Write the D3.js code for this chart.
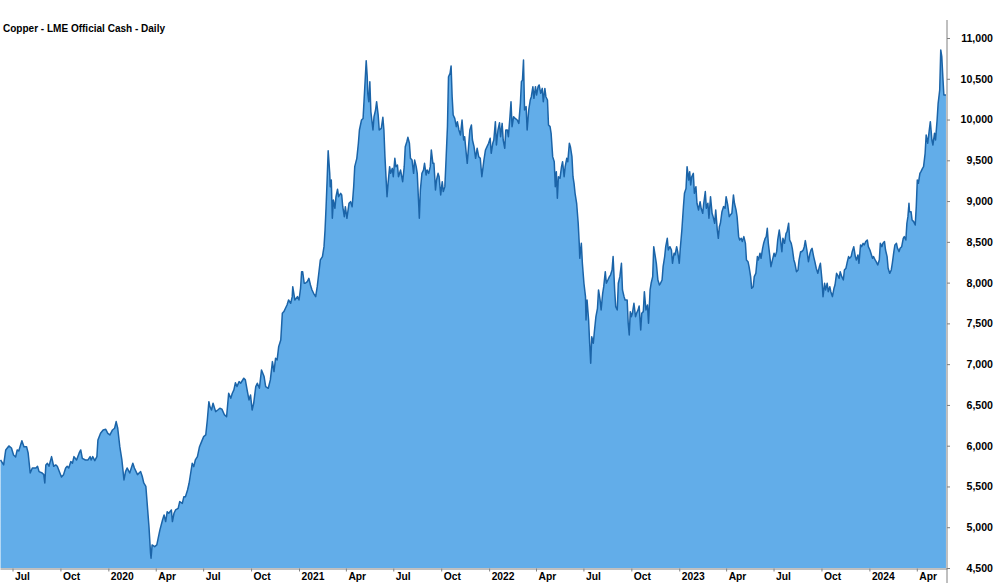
<!DOCTYPE html>
<html>
<head>
<meta charset="utf-8">
<script src="https://cdn.jsdelivr.net/npm/d3@7"></script>
<style>
  body { margin: 0; background: #fff; }
  text { font-family: "Liberation Sans", Arial, sans-serif; font-weight: bold; fill: #000; }
</style>
</head>
<body>
<div id="wrapper"></div>
<script>
// LME official cash copper, USD/t
const copper2019 = [["2019-06-08",5825],["2019-06-14",5764],["2019-06-18",5948],["2019-06-24",5997],["2019-06-29",5972],["2019-07-03",5886],["2019-07-07",5862],["2019-07-10",5948],["2019-07-13",5935],["2019-07-19",6061],["2019-07-23",5988],["2019-07-28",5988],["2019-07-31",5911],["2019-08-04",5665],["2019-08-08",5727],["2019-08-15",5727],["2019-08-18",5748],["2019-08-21",5682],["2019-08-27",5665],["2019-08-30",5645],["2019-09-01",5543],["2019-09-03",5764],["2019-09-06",5784],["2019-09-09",5748],["2019-09-14",5866],["2019-09-18",5748],["2019-09-22",5764],["2019-09-25",5748],["2019-09-30",5665],["2019-10-03",5616],["2019-10-07",5645],["2019-10-11",5727],["2019-10-14",5748],["2019-10-17",5727],["2019-10-21",5805],["2019-10-24",5784],["2019-10-27",5866],["2019-11-01",5825],["2019-11-06",5911],["2019-11-09",5948],["2019-11-12",5845],["2019-11-18",5825],["2019-11-23",5825],["2019-11-27",5866],["2019-11-29",5825],["2019-12-02",5866],["2019-12-06",5817],["2019-12-10",5866],["2019-12-12",6070],["2019-12-17",6152],["2019-12-22",6193],["2019-12-27",6201],["2019-12-31",6152]];

const copper2020 = [["2020-01-04",6132],["2020-01-09",6193],["2020-01-13",6214],["2020-01-16",6296],["2020-01-19",6214],["2020-01-23",5988],["2020-01-27",5825],["2020-01-31",5580],["2020-02-03",5682],["2020-02-06",5727],["2020-02-11",5665],["2020-02-17",5784],["2020-02-20",5727],["2020-02-26",5645],["2020-02-29",5665],["2020-03-03",5682],["2020-03-06",5625],["2020-03-09",5543],["2020-03-13",5502],["2020-03-16",5253],["2020-03-19",5007],["2020-03-22",4681],["2020-03-23",4620],["2020-03-25",4783],["2020-03-30",4762],["2020-04-03",4783],["2020-04-05",4844],["2020-04-09",4967],["2020-04-14",5089],["2020-04-17",5150],["2020-04-20",5069],["2020-04-23",5191],["2020-04-26",5171],["2020-05-01",5212],["2020-05-03",5069],["2020-05-06",5171],["2020-05-09",5212],["2020-05-14",5232],["2020-05-17",5314],["2020-05-22",5293],["2020-05-25",5375],["2020-05-28",5375],["2020-06-01",5457],["2020-06-04",5539],["2020-06-07",5662],["2020-06-10",5784],["2020-06-13",5743],["2020-06-16",5825],["2020-06-20",5866],["2020-06-24",5988],["2020-06-28",6050],["2020-07-02",6111],["2020-07-06",6132],["2020-07-09",6315],["2020-07-12",6540],["2020-07-14",6479],["2020-07-17",6438],["2020-07-20",6520],["2020-07-25",6418],["2020-07-29",6438],["2020-08-02",6459],["2020-08-06",6448],["2020-08-11",6377],["2020-08-15",6356],["2020-08-19",6643],["2020-08-23",6581],["2020-08-26",6643],["2020-08-29",6684],["2020-09-01",6773],["2020-09-04",6725],["2020-09-08",6786],["2020-09-11",6766],["2020-09-17",6827],["2020-09-20",6807],["2020-09-24",6663],["2020-09-27",6561],["2020-09-30",6622],["2020-10-03",6438],["2020-10-06",6520],["2020-10-10",6725],["2020-10-13",6766],["2020-10-17",6704],["2020-10-21",6929],["2020-10-26",6848],["2020-10-29",6725],["2020-11-03",6704],["2020-11-07",6807],["2020-11-11",7031],["2020-11-14",6909],["2020-11-17",7072],["2020-11-20",7052],["2020-11-23",7215],["2020-11-27",7297],["2020-11-30",7624],["2020-12-03",7645],["2020-12-06",7685],["2020-12-09",7726],["2020-12-12",7787],["2020-12-16",7746],["2020-12-19",7828],["2020-12-20",7950],["2020-12-24",7787],["2020-12-29",7828]];

const copper2021 = [["2021-01-01",7787],["2021-01-04",7930],["2021-01-06",8134],["2021-01-08",8134],["2021-01-11",7992],["2021-01-13",7992],["2021-01-17",8012],["2021-01-20",8052],["2021-01-23",7971],["2021-01-26",7910],["2021-01-29",7869],["2021-02-02",7828],["2021-02-05",7950],["2021-02-08",8115],["2021-02-11",8278],["2021-02-15",8319],["2021-02-18",8441],["2021-02-20",8645],["2021-02-22",8931],["2021-02-24",9258],["2021-02-26",9618],["2021-03-01",9341],["2021-03-02",9177],["2021-03-04",9258],["2021-03-06",8789],["2021-03-08",9013],["2021-03-11",8912],["2021-03-13",9054],["2021-03-16",9145],["2021-03-18",9054],["2021-03-22",9095],["2021-03-24",9075],["2021-03-26",8931],["2021-03-29",8809],["2021-03-31",8931],["2021-04-03",8789],["2021-04-07",8973],["2021-04-10",8993],["2021-04-13",8931],["2021-04-16",9177],["2021-04-18",9422],["2021-04-22",9524],["2021-04-25",9709],["2021-04-27",9872],["2021-05-01",9994],["2021-05-04",10014],["2021-05-07",10362],["2021-05-10",10722],["2021-05-12",10525],["2021-05-13",10322],["2021-05-15",10219],["2021-05-17",10464],["2021-05-19",10096],["2021-05-23",9872],["2021-05-25",10035],["2021-05-28",10117],["2021-05-30",10219],["2021-06-02",10055],["2021-06-04",9872],["2021-06-08",9892],["2021-06-11",10027],["2021-06-13",9872],["2021-06-15",9545],["2021-06-17",9299],["2021-06-19",9054],["2021-06-21",9218],["2021-06-24",9422],["2021-06-26",9340],["2021-06-29",9401],["2021-07-01",9299],["2021-07-04",9524],["2021-07-06",9422],["2021-07-09",9443],["2021-07-11",9299],["2021-07-15",9381],["2021-07-19",9238],["2021-07-22",9422],["2021-07-24",9667],["2021-07-27",9728],["2021-07-29",9782],["2021-08-01",9709],["2021-08-03",9524],["2021-08-06",9503],["2021-08-09",9340],["2021-08-11",9503],["2021-08-14",9422],["2021-08-16",9340],["2021-08-19",8931],["2021-08-20",8789],["2021-08-22",9136],["2021-08-25",9340],["2021-08-28",9381],["2021-08-30",9463],["2021-09-02",9320],["2021-09-04",9381],["2021-09-07",9340],["2021-09-10",9422],["2021-09-12",9627],["2021-09-15",9463],["2021-09-17",9463],["2021-09-20",9136],["2021-09-22",9258],["2021-09-25",9340],["2021-09-27",9299],["2021-09-30",9075],["2021-10-03",9238],["2021-10-05",9116],["2021-10-08",9177],["2021-10-10",9463],["2021-10-13",9913],["2021-10-15",10525],["2021-10-18",10566],["2021-10-20",10657],["2021-10-22",10280],["2021-10-24",10056],["2021-10-27",10014],["2021-10-30",9913],["2021-11-01",9974],["2021-11-04",9872],["2021-11-07",9811],["2021-11-10",9994],["2021-11-13",9749],["2021-11-15",9790],["2021-11-18",9586],["2021-11-20",9463],["2021-11-23",9709],["2021-11-25",9872],["2021-11-28",9933],["2021-11-30",9749],["2021-12-03",9667],["2021-12-06",9524],["2021-12-09",9647],["2021-12-12",9545],["2021-12-15",9524],["2021-12-18",9299],["2021-12-22",9503],["2021-12-25",9627],["2021-12-28",9667],["2021-12-31",9709]];

const copper2022 = [["2022-01-03",9770],["2022-01-05",9586],["2022-01-08",9709],["2022-01-10",9749],["2022-01-13",9974],["2022-01-15",9688],["2022-01-18",9872],["2022-01-21",9961],["2022-01-23",9790],["2022-01-26",9953],["2022-01-28",9749],["2022-01-31",9647],["2022-02-02",9872],["2022-02-05",9872],["2022-02-07",9790],["2022-02-10",10035],["2022-02-12",10219],["2022-02-14",9913],["2022-02-17",10035],["2022-02-20",10014],["2022-02-24",9994],["2022-02-27",9953],["2022-03-02",10199],["2022-03-04",10464],["2022-03-06",10484],["2022-03-08",10730],["2022-03-10",10117],["2022-03-13",10158],["2022-03-15",9872],["2022-03-18",10117],["2022-03-21",10240],["2022-03-23",10280],["2022-03-26",10403],["2022-03-28",10260],["2022-03-31",10403],["2022-04-02",10301],["2022-04-05",10403],["2022-04-07",10424],["2022-04-10",10321],["2022-04-13",10382],["2022-04-15",10219],["2022-04-18",10382],["2022-04-20",10280],["2022-04-23",10240],["2022-04-25",9933],["2022-04-28",9913],["2022-04-30",9831],["2022-05-03",9545],["2022-05-06",9483],["2022-05-08",9177],["2022-05-10",9361],["2022-05-12",9034],["2022-05-14",9299],["2022-05-17",9279],["2022-05-20",9422],["2022-05-22",9483],["2022-05-25",9299],["2022-05-27",9422],["2022-05-30",9524],["2022-06-01",9483],["2022-06-04",9709],["2022-06-06",9667],["2022-06-09",9545],["2022-06-11",9299],["2022-06-13",9218],["2022-06-15",9095],["2022-06-18",8973],["2022-06-21",8728],["2022-06-23",8482],["2022-06-24",8298],["2022-06-27",8482],["2022-06-29",8237],["2022-07-02",7992],["2022-07-05",7828],["2022-07-06",7542],["2022-07-08",7787],["2022-07-11",7542],["2022-07-13",7256],["2022-07-15",7011],["2022-07-17",7337],["2022-07-20",7256],["2022-07-22",7398],["2022-07-25",7582],["2022-07-28",7685],["2022-07-30",7910],["2022-08-02",7787],["2022-08-04",7665],["2022-08-07",7869],["2022-08-09",7950],["2022-08-12",8134],["2022-08-14",7992],["2022-08-17",8032],["2022-08-20",8073],["2022-08-22",8093],["2022-08-25",8155],["2022-08-27",8319],["2022-08-30",7910],["2022-09-01",7705],["2022-09-04",7665],["2022-09-06",7992],["2022-09-09",8073],["2022-09-12",8237],["2022-09-14",7910],["2022-09-17",7828],["2022-09-19",7787],["2022-09-23",7787],["2022-09-25",7501],["2022-09-27",7358],["2022-09-29",7644],["2022-10-01",7582],["2022-10-03",7624],["2022-10-06",7747],["2022-10-09",7582],["2022-10-11",7624],["2022-10-14",7665],["2022-10-16",7714],["2022-10-19",7419],["2022-10-21",7624],["2022-10-24",7644],["2022-10-26",7889],["2022-10-29",7665],["2022-11-01",7726],["2022-11-03",7501],["2022-11-06",7910],["2022-11-08",7992],["2022-11-11",8073],["2022-11-13",8441],["2022-11-16",8319],["2022-11-18",8237],["2022-11-21",8032],["2022-11-24",7971],["2022-11-26",7992],["2022-11-29",8032],["2022-12-01",8196],["2022-12-04",8319],["2022-12-06",8441],["2022-12-09",8543],["2022-12-11",8400],["2022-12-14",8441],["2022-12-17",8400],["2022-12-19",8237],["2022-12-22",8360],["2022-12-24",8339],["2022-12-27",8441],["2022-12-29",8380]];

const copper2023 = [["2023-01-01",8237],["2023-01-03",8421],["2023-01-06",8645],["2023-01-09",8931],["2023-01-11",9095],["2023-01-14",9156],["2023-01-16",9422],["2023-01-19",9258],["2023-01-21",9361],["2023-01-23",9197],["2023-01-25",9299],["2023-01-28",9340],["2023-01-30",9095],["2023-02-02",9177],["2023-02-04",8973],["2023-02-07",8891],["2023-02-10",8993],["2023-02-12",8912],["2023-02-15",8850],["2023-02-17",8973],["2023-02-20",9116],["2023-02-22",8912],["2023-02-25",8973],["2023-02-27",8789],["2023-03-02",9054],["2023-03-05",8850],["2023-03-07",8809],["2023-03-10",8728],["2023-03-12",8891],["2023-03-15",8645],["2023-03-17",8543],["2023-03-19",8686],["2023-03-21",8728],["2023-03-24",8870],["2023-03-27",8932],["2023-03-30",8912],["2023-04-01",9054],["2023-04-04",8953],["2023-04-07",8809],["2023-04-09",8830],["2023-04-12",8850],["2023-04-15",9075],["2023-04-17",8973],["2023-04-20",8891],["2023-04-22",8809],["2023-04-25",8564],["2023-04-27",8523],["2023-04-30",8543],["2023-05-02",8503],["2023-05-05",8564],["2023-05-08",8482],["2023-05-10",8278],["2023-05-13",8257],["2023-05-15",8196],["2023-05-18",8073],["2023-05-20",7930],["2023-05-23",7950],["2023-05-25",8073],["2023-05-28",8114],["2023-05-31",8319],["2023-06-02",8278],["2023-06-05",8360],["2023-06-07",8298],["2023-06-10",8421],["2023-06-12",8482],["2023-06-15",8543],["2023-06-17",8564],["2023-06-19",8666],["2023-06-21",8482],["2023-06-24",8319],["2023-06-26",8196],["2023-06-29",8278],["2023-07-02",8360],["2023-07-04",8319],["2023-07-07",8380],["2023-07-09",8523],["2023-07-12",8645],["2023-07-14",8543],["2023-07-17",8380],["2023-07-19",8543],["2023-07-22",8482],["2023-07-25",8605],["2023-07-27",8625],["2023-07-30",8728],["2023-08-01",8523],["2023-08-04",8482],["2023-08-06",8421],["2023-08-09",8278],["2023-08-11",8237],["2023-08-14",8134],["2023-08-17",8155],["2023-08-19",8278],["2023-08-22",8380],["2023-08-24",8380],["2023-08-27",8400],["2023-08-29",8441],["2023-08-31",8515],["2023-09-03",8400],["2023-09-06",8257],["2023-09-09",8360],["2023-09-11",8400],["2023-09-13",8421],["2023-09-16",8319],["2023-09-19",8237],["2023-09-21",8176],["2023-09-24",8114],["2023-09-27",8196],["2023-09-29",8237],["2023-10-02",8032],["2023-10-04",7828],["2023-10-07",7992],["2023-10-09",7910],["2023-10-12",7992],["2023-10-14",7889],["2023-10-17",7950],["2023-10-19",7889],["2023-10-22",7828],["2023-10-25",7930],["2023-10-27",7971],["2023-10-30",8114],["2023-11-01",8093],["2023-11-04",8052],["2023-11-06",8134],["2023-11-09",8073],["2023-11-12",8032],["2023-11-14",8155],["2023-11-17",8176],["2023-11-19",8237],["2023-11-22",8319],["2023-11-24",8298],["2023-11-27",8319],["2023-11-29",8380],["2023-12-02",8441],["2023-12-05",8319],["2023-12-07",8278],["2023-12-10",8339],["2023-12-12",8237],["2023-12-15",8462],["2023-12-17",8441],["2023-12-20",8482],["2023-12-22",8462],["2023-12-25",8503],["2023-12-28",8523],["2023-12-30",8441]];

const copper2024 = [["2024-01-02",8400],["2024-01-04",8360],["2024-01-07",8298],["2024-01-09",8319],["2024-01-12",8278],["2024-01-14",8257],["2024-01-17",8217],["2024-01-20",8278],["2024-01-22",8482],["2024-01-25",8441],["2024-01-27",8482],["2024-01-30",8503],["2024-02-01",8400],["2024-02-04",8319],["2024-02-06",8176],["2024-02-09",8114],["2024-02-12",8155],["2024-02-14",8237],["2024-02-17",8380],["2024-02-19",8462],["2024-02-22",8482],["2024-02-24",8421],["2024-02-27",8380],["2024-02-29",8421],["2024-03-03",8441],["2024-03-06",8543],["2024-03-08",8564],["2024-03-11",8523],["2024-03-13",8728],["2024-03-15",8809],["2024-03-17",8973],["2024-03-18",8870],["2024-03-21",8870],["2024-03-23",8768],["2024-03-26",8748],["2024-03-29",8707],["2024-03-31",8932],["2024-04-02",9258],["2024-04-04",9218],["2024-04-07",9340],["2024-04-09",9361],["2024-04-12",9401],["2024-04-14",9422],["2024-04-17",9586],["2024-04-19",9811],["2024-04-22",9709],["2024-04-25",9872],["2024-04-27",9974],["2024-04-30",9749],["2024-05-02",9688],["2024-05-05",9831],["2024-05-07",9749],["2024-05-10",9994],["2024-05-12",10199],["2024-05-15",10362],["2024-05-17",10853],["2024-05-19",10771],["2024-05-21",10525],["2024-05-23",10301],["2024-05-27",10301]];

const yTickValues = [4500, 5000, 5500, 6000, 6500, 7000, 7500, 8000, 8500, 9000, 9500, 10000, 10500, 11000];
const xStart = "2019-06-07";
const xEnd = "2024-05-29";
const chartTitle = "Copper - LME Official Cash - Daily";

function drawChart() {
    const dataSet = [].concat(copper2019, copper2020, copper2021, copper2022, copper2023, copper2024);
    const dateParser = d3.timeParse("%Y-%m-%d");
    const xAccessor = d => dateParser(d[0]);
    const yAccessor = d => d[1];

    //1. dimensions
    let dimensions = {
        width: 1000,
        height: 583,
        margin: { top: 38, right: 53, bottom: 15, left: 0 }
    };
    dimensions.boundedWidth = dimensions.width - dimensions.margin.left - dimensions.margin.right;
    dimensions.boundedHeight = dimensions.height - dimensions.margin.top - dimensions.margin.bottom;

    //2. svg
    const wrapper = d3.select("#wrapper")
        .append("svg")
        .attr("width", dimensions.width)
        .attr("height", dimensions.height);

    // title is squeezed a bit in the original
    wrapper.append("text")
        .attr("x", 3)
        .attr("y", 32)
        .attr("textLength", 162)
        .attr("lengthAdjust", "spacingAndGlyphs")
        .style("font-size", "11.5px")
        .text(chartTitle);

    const bounds = wrapper.append("g")
        .attr("transform", `translate(${dimensions.margin.left},${dimensions.margin.top})`);

    //3. scales
    const yScale = d3.scaleLinear()
        .domain(d3.extent(yTickValues))
        .range([dimensions.boundedHeight, 0]);

    const xScale = d3.scaleTime()
        .domain([dateParser(xStart), dateParser(xEnd)])
        .range([0, dimensions.boundedWidth]);

    //4. area + line
    const areaGenerator = d3.area()
        .x(d => xScale(xAccessor(d)))
        .y0(dimensions.boundedHeight)
        .y1(d => yScale(yAccessor(d)));

    const lineGenerator = d3.line()
        .x(d => xScale(xAccessor(d)))
        .y(d => yScale(yAccessor(d)));

    bounds.append("path")
        .attr("d", areaGenerator(dataSet))
        .attr("fill", "#62ade9");

    bounds.append("path")
        .attr("d", lineGenerator(dataSet))
        .attr("fill", "none")
        .attr("stroke", "#1b64a8")
        .attr("stroke-width", 1.5)
        .attr("stroke-linejoin", "round");

    //5. axes
    const yAxisGenerator = d3.axisRight(yScale)
        .tickValues(yTickValues)
        .tickSize(3)
        .tickFormat(d3.format(","));

    const yAxis = bounds.append("g")
        .attr("transform", `translate(${dimensions.boundedWidth},0)`)
        .call(yAxisGenerator);
    yAxis.select(".domain").remove();
    yAxis.selectAll(".tick line").attr("stroke", "#808080");
    yAxis.selectAll(".tick text")
        .attr("x", 46)
        .attr("text-anchor", "end")
        .style("font-size", "10.6px")
        .style("font-family", "'Liberation Sans', Arial, sans-serif");
    yAxis.append("line")
        .attr("y1", -dimensions.margin.top + 20)
        .attr("y2", dimensions.boundedHeight + dimensions.margin.bottom)
        .attr("stroke", "#808080");

    const xAxisGenerator = d3.axisBottom(xScale)
        .ticks(d3.timeMonth.every(3))
        .tickSize(3)
        .tickSizeOuter(0)
        .tickFormat(d => d.getMonth() === 0 ? d3.timeFormat("%Y")(d) : d3.timeFormat("%b")(d));

    const xAxis = bounds.append("g")
        .attr("transform", `translate(0,${dimensions.boundedHeight + 0.5})`)
        .call(xAxisGenerator);
    xAxis.select(".domain").attr("stroke", "#808080");
    xAxis.selectAll(".tick line").attr("stroke", "#808080");
    xAxis.selectAll(".tick text")
        .attr("x", 2)
        .attr("y", 4)
        .attr("text-anchor", "start")
        .style("font-size", "10.3px")
        .style("font-family", "'Liberation Sans', Arial, sans-serif");
}
drawChart();
</script>
</body>
</html>
